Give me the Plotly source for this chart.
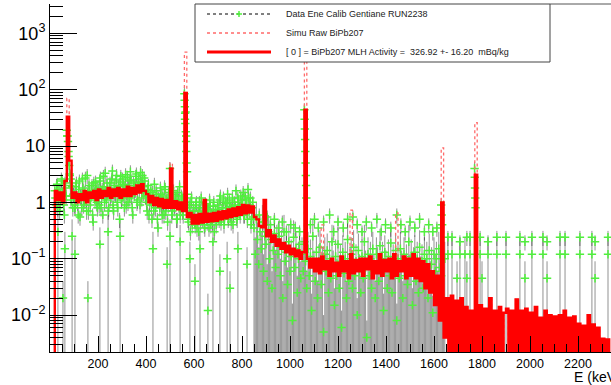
import plotly.graph_objects as go

# ------------------------------------------------------------------ data
# MLH fit ("[0] = BiPb207"), 10 keV bins, left edges 0 .. 2330 keV
fit_bin_keV = 10
fit_rows = [
    [0, 0, 1.6, 1.1, 1.5, 1.0, 2.4, 33, 5.5, 1.2],                      # 0-90
    [1.5, 1.0, 1.4, 1.1, 1.6, 1.0, 1.5, 1.2, 1.6, 1.1],                 # 100
    [1.7, 1.2, 1.6, 1.3, 1.8, 1.2, 1.7, 1.3, 1.8, 1.2],                 # 200
    [1.7, 1.3, 1.9, 1.3, 1.8, 1.4, 2.0, 1.5, 2.1, 1.6],                 # 300
    [1.4, 1.0, 1.3, 0.9, 1.2, 0.85, 1.15, 0.8, 1.1, 0.8],               # 400
    [4.0, 0.8, 1.05, 0.75, 1.0, 0.7, 87, 0.55, 0.65, 0.42],             # 500
    [0.6, 0.42, 0.62, 0.44, 1.1, 0.45, 0.63, 0.46, 0.65, 0.47],         # 600
    [0.68, 0.5, 0.7, 0.52, 0.75, 0.55, 0.78, 0.58, 0.82, 0.6],          # 700
    [0.9, 0.64, 0.88, 0.66, 0.85, 0.55, 0.5, 0.38, 0.36, 1.1],          # 800
    [0.25, 0.32, 0.2, 0.26, 0.17, 0.22, 0.15, 0.19, 0.13, 0.17],        # 900
    [0.12, 0.15, 0.11, 0.14, 0.1, 0.13, 44, 0.1, 0.07, 0.1],            # 1000
    [0.06, 0.1, 0.055, 0.11, 0.065, 0.09, 0.05, 0.1, 0.06, 0.085],      # 1100
    [0.05, 0.11, 0.06, 0.09, 0.045, 0.12, 0.055, 0.095, 0.06, 0.1],     # 1200
    [0.05, 0.1, 0.065, 0.11, 0.045, 0.09, 0.055, 0.12, 0.05, 0.095],    # 1300
    [0.06, 0.1, 0.045, 0.12, 0.05, 0.09, 0.06, 0.11, 0.045, 0.1],       # 1400
    [0.05, 0.12, 0.045, 0.1, 0.04, 0.09, 0.03, 0.08, 0.025, 0.06],      # 1500
    [0.015, 0.05, 0.008, 1.0, 0.004, 0.02, 0, 0.022, 0, 0.018],         # 1600
    [0, 0.02, 0, 0.014, 0, 0.012, 0, 3.1, 0, 0.015],                    # 1700
    [0, 0.013, 0, 0.02, 0, 0.012, 0, 0.014, 0, 0.011],                  # 1800
    [0.013, 0, 0.012, 0, 0.019, 0, 0.012, 0, 0.013, 0],                 # 1900
    [0.011, 0, 0.014, 0, 0.009, 0, 0.012, 0, 0.01, 0],                  # 2000
    [0.0095, 0, 0.01, 0, 0.012, 0, 0.009, 0, 0.0095, 0],                # 2100
    [0.007, 0, 0.0065, 0, 0.01, 0, 0.0068, 0, 0.006, 0],                # 2200
    [0.0038, 0, 0.0037, 0],                                             # 2300
]
# raw simulation: same as the fit except in these bins (keV -> value)
simu_raw_peaks = {70: 70, 500: 5, 560: 465, 1060: 600, 1130: 0.4,
                  1250: 0.73, 1440: 0.65, 1630: 9.3, 1770: 26}

# data, multi-count bins 20..845 keV every 5 keV
cloud_start, cloud_step = 20, 5
cloud_rows = [
    [1.6, 0.9, 2.1, 1.2, 0.7, 1.5, 2.4, 1.1, 0.6, 1.8, 19, 12, 4.5, 2.0, 1.3, 0.8],
    [1.4, 0.8, 2.2, 1.0, 1.7, 0.55, 1.3, 2.6, 0.9, 1.5, 1.1, 3.0, 0.7, 1.6, 1.2, 2.0, 0.45, 1.4, 2.3, 1.0],
    [1.8, 0.9, 2.7, 1.3, 0.6, 1.9, 3.3, 1.1, 1.6, 0.8, 2.2, 1.4, 3.6, 0.7, 1.5, 2.5, 1.0, 1.9, 0.5, 2.9],
    [1.2, 2.1, 0.8, 3.1, 1.6, 1.0, 2.4, 3.5, 1.3, 0.6, 2.0, 1.7, 3.2, 1.1, 2.6, 0.9, 2.2, 3.0, 1.5, 2.4],
    [1.3, 0.7, 2.0, 1.0, 1.6, 0.5, 1.2, 2.1, 0.8, 1.4, 0.35, 1.1, 1.8, 0.9, 1.3, 0.6, 1.7, 1.0, 0.45, 1.5],
    [4.0, 1.2, 0.7, 1.6, 0.9, 1.3, 0.5, 1.1, 1.9, 0.8, 1.2, 0.6, 85, 40, 1.4, 0.5, 0.9, 0.3, 1.2, 0.6],
    [0.7, 0.4, 1.0, 0.55, 0.3, 0.8, 1.2, 0.5, 0.65, 0.35, 0.9, 0.45, 0.75, 1.1, 0.4, 0.6, 0.85, 0.3, 0.7, 0.5],
    [0.9, 0.5, 1.3, 0.6, 0.8, 0.4, 1.0, 0.7, 1.4, 0.55, 0.85, 0.45, 1.2, 0.65, 0.9, 1.6, 0.5, 1.0, 0.75, 1.3],
    [0.8, 1.5, 0.6, 1.1, 0.9, 1.7, 0.7, 1.2, 0.5, 1.0],
]
# data, multi-count bins 22.5..847.5 keV every 5 keV (interleaved)
cloud2_start = 22.5
cloud2_rows = [
    [1.2, 2.0, 0.8, 1.7, 1.0, 2.6, 1.4, 0.9, 2.2, 1.3, 15, 6.5, 3.0, 1.1, 1.9, 1.4],
    [0.9, 1.9, 1.2, 0.6, 2.4, 1.3, 0.8, 1.8, 1.1, 2.7, 0.7, 1.5, 2.0, 0.9, 1.6, 0.6, 2.2, 1.1, 1.7, 0.8],
    [1.3, 2.4, 0.8, 1.7, 2.9, 1.0, 1.5, 2.2, 0.7, 1.8, 1.2, 2.6, 0.9, 2.0, 1.4, 3.0, 0.8, 1.6, 2.3, 1.1],
    [2.6, 1.4, 2.0, 0.9, 2.8, 1.8, 1.2, 2.5, 0.8, 2.2, 1.5, 2.9, 1.0, 2.3, 1.7, 3.4, 1.2, 1.9, 2.7, 1.3],
    [1.0, 1.7, 0.6, 1.3, 0.9, 1.5, 0.7, 1.1, 1.6, 0.5, 1.2, 0.8, 1.4, 0.6, 1.0, 1.9, 0.7, 1.2, 0.9, 1.1],
    [1.0, 0.6, 1.4, 0.8, 1.1, 0.5, 1.5, 0.9, 0.6, 1.3, 0.7, 1.0, 30, 15, 0.8, 0.45, 0.7, 1.0, 0.4, 0.8],
    [0.5, 0.9, 0.35, 0.7, 1.0, 0.45, 0.6, 0.8, 0.4, 0.95, 0.55, 0.7, 0.35, 0.85, 0.6, 0.45, 1.0, 0.55, 0.4, 0.75],
    [0.6, 1.1, 0.45, 0.8, 1.2, 0.55, 0.7, 0.95, 0.5, 1.1, 0.65, 0.8, 0.4, 1.0, 0.75, 0.55, 1.2, 0.85, 0.6, 0.9],
    [1.1, 0.6, 1.3, 0.75, 0.5, 1.2, 0.9, 0.4, 0.8, 0.55],
]
cloud_rel_err = 0.3

# data, other multi-count bins (peaks, upper points) : energy keV, value
extra_E = [72, 77, 82, 86, 561, 562, 563, 564, 566, 567, 568, 569, 571,
           1060, 1061, 1062, 1063, 1064, 1065, 1066, 1067, 1068,
           1630, 1632, 1634, 1769, 1770, 1771, 1772, 1773,
           872, 888, 905, 918, 935, 952, 968, 985, 1003, 1022, 1040, 1085, 1102,
           1118, 1140, 1165, 1182, 1200, 1222, 1240, 1262, 1280, 1300, 1318, 1340,
           1362, 1380, 1398, 1420, 1445, 1462, 1480, 1500, 1520, 1540, 1560, 1578,
           1595, 1612,
           1658, 1675, 1708, 1737, 1750, 1792, 1825, 1862, 1900, 1958, 1979,
           2008, 2054, 2071, 2125, 2146, 2208, 2258, 2271, 2325]
extra_y = [15, 8, 3.2, 2.6, 65, 50, 38, 25, 18, 12, 8, 5, 3.5,
           44, 30, 20, 13, 8, 5, 3, 2, 1.2,
           0.9, 0.6, 0.4, 4.0, 2.8, 1.8, 1.2, 0.8,
           0.6, 0.45, 0.55, 0.4, 0.5, 0.35, 0.45, 0.3, 0.4, 0.35, 0.3, 0.4, 0.5,
           0.35, 0.45, 0.6, 0.3, 0.45, 0.35, 0.5, 0.55, 0.4, 0.3, 0.45, 0.35,
           0.5, 0.3, 0.4, 0.35, 0.6, 0.4, 0.3, 0.45, 0.35, 0.5, 0.3, 0.4,
           0.3, 0.35,
           0.24, 0.24, 0.2, 0.24, 0.24, 0.24, 0.2, 0.24, 0.24, 0.24, 0.2,
           0.24, 0.24, 0.2, 0.24, 0.24, 0.24, 0.24, 0.2, 0.24]

# data, single-count bins (error bar reaches zero)
single_E = [33, 54, 62, 92, 104, 158, 208, 242, 292, 429, 488, 500, 542, 583,
            604, 625, 658, 679, 708, 738, 750, 783, 821,
            1658, 1675, 1696, 1708, 1729, 1737, 1750, 1792, 1800, 1825, 1862,
            1900, 1958, 1979, 2008, 2054, 2071, 2125, 2146, 2208, 2258, 2271, 2325]
single_y = [0.3, 0.02, 0.15, 0.25, 0.12, 0.02, 0.18, 0.3, 0.25, 0.15, 0.08, 0.25,
            0.2, 0.1, 0.04, 0.15, 0.012, 0.2, 0.06, 0.1, 0.03, 0.15, 0.08,
            0.12, 0.12, 0.045, 0.12, 0.12, 0.045, 0.12, 0.12, 0.045, 0.12, 0.12,
            0.12, 0.12, 0.045, 0.12, 0.12, 0.045, 0.12, 0.12, 0.12, 0.12, 0.045, 0.12]
# single-count bins 850..1645 keV every 5 keV
singleB_start, singleB_step = 850, 5
singleB_rows = [
    [0.35, 0.12, 0.5, 0.22, 0.08, 0.3, 0.15, 0.45, 0.06, 0.25, 0.18, 0.04, 0.3, 0.1, 0.22, 0.03, 0.14, 0.28, 0.07, 0.2],
    [0.12, 0.25, 0.05, 0.16, 0.02, 0.3, 0.09, 0.13, 0.035, 0.2, 0.06, 0.11, 0.008, 0.24, 0.07, 0.15, 0.025, 0.1, 0.18, 0.045],
    [0.12, 0.06, 0.2, 0.09, 0.03, 0.15, 0.05, 0.11, 0.012, 0.25, 0.07, 0.04, 0.13, 0.02, 0.09, 0.16, 0.035, 0.08, 0.005, 0.12],
    [0.06, 0.14, 0.025, 0.1, 0.045, 0.2, 0.07, 0.015, 0.11, 0.05, 0.18, 0.03, 0.09, 0.006, 0.13, 0.055, 0.1, 0.02, 0.22, 0.04],
    [0.08, 0.12, 0.03, 0.16, 0.05, 0.09, 0.01, 0.14, 0.06, 0.025, 0.11, 0.045, 0.2, 0.07, 0.004, 0.12, 0.05, 0.1, 0.03, 0.15],
    [0.06, 0.02, 0.12, 0.08, 0.04, 0.17, 0.055, 0.1, 0.012, 0.13, 0.07, 0.03, 0.11, 0.05, 0.19, 0.025, 0.09, 0.06, 0.14, 0.008],
    [0.1, 0.045, 0.15, 0.07, 0.02, 0.12, 0.05, 0.09, 0.035, 0.2, 0.06, 0.11, 0.015, 0.08, 0.13, 0.04, 0.1, 0.025, 0.16, 0.055],
    [0.09, 0.03, 0.12, 0.05, 0.1, 0.02, 0.14, 0.045, 0.08, 0.011, 0.12, 0.06, 0.1, 0.03, 0.15, 0.07, 0.05, 0.12, 0.02, 0.1],
]

x_ticks = [200, 400, 600, 800, 1000, 1200, 1400, 1600, 1800, 2000, 2200]
y_ticks = [0.01, 0.1, 1, 10, 100, 1000]
y_ticktext = ["10<sup>\u22122</sup>", "10<sup>\u22121</sup>", "1", "10",
              "10<sup>2</sup>", "10<sup>3</sup>"]
legend_labels = [
    "Data Ene Calib Gentiane RUN2238",
    "Simu Raw BiPb207",
    "[ 0 ] = BiPb207 MLH Activity =\u00a0 326.92 +- 16.20\u00a0 mBq/kg",
]

# ------------------------------------------------------------------ build
X_RANGE = [0, 2337.5]
LOG_RANGE = [-2.655, 3.52]
FLOOR = 1e-5

fit_vals = [v for row in fit_rows for v in row]
fit_E = [i * fit_bin_keV for i in range(len(fit_vals))]
simu_vals = [simu_raw_peaks.get(e, v) for e, v in zip(fit_E, fit_vals)]
fit_plot = [max(v, FLOOR) for v in fit_vals]
simu_plot = [max(v, FLOOR) for v in simu_vals]

cloud_y = [v for row in cloud_rows for v in row]
cloud_E = [cloud_start + i * cloud_step for i in range(len(cloud_y))]
cloud2_y = [v for row in cloud2_rows for v in row]
cloud2_E = [cloud2_start + i * cloud_step for i in range(len(cloud2_y))]
singleB_y = [v for row in singleB_rows for v in row]
singleB_E = [singleB_start + i * singleB_step for i in range(len(singleB_y))]

multi_E = cloud_E + cloud2_E + extra_E
multi_y = cloud_y + cloud2_y + extra_y
one_E = single_E + singleB_E
one_y = single_y + singleB_y

ex, ey = [], []
for e, v in zip(multi_E, multi_y):
    ex += [e, e, None]
    ey += [v * (1 + cloud_rel_err), max(v * (1 - cloud_rel_err), FLOOR), None]
for e, v in zip(one_E, one_y):
    ex += [e, e, None]
    ey += [2 * v, FLOOR, None]

GREEN = "rgb(80,240,60)"
RED = "#ff0000"
PINK = "#ff6a6a"

fig = go.Figure()
fig.add_trace(go.Scatter(x=ex, y=ey, mode="lines",
                         line=dict(color="rgba(0,0,0,0.62)", width=0.7),
                         hoverinfo="skip"))
fig.add_trace(go.Scatter(x=multi_E + one_E, y=multi_y + one_y, mode="markers",
                         marker=dict(symbol="cross-thin", size=6, color=GREEN,
                                     line=dict(color=GREEN, width=1.5))))
fig.add_trace(go.Scatter(x=fit_E, y=simu_plot, mode="lines", line_shape="hv",
                         line=dict(color=PINK, width=1.3, dash="dot")))
fig.add_trace(go.Scatter(x=fit_E, y=fit_plot, mode="lines", line_shape="hv",
                         line=dict(color=RED, width=2.4)))

FONT = "Liberation Sans, Arial, sans-serif"
W, H = 611, 385
ML, MR, MT, MB = 50, 0, 4, 33
PW, PH = W - ML - MR, H - MT - MB


def px(x):
    return (x - ML) / PW


def py(y):
    return (MT + PH - y) / PH


fig.update_layout(
    width=W, height=H, margin=dict(l=ML, r=MR, t=MT, b=MB),
    paper_bgcolor="white", plot_bgcolor="white", showlegend=False,
    font=dict(family=FONT, color="black"),
    xaxis=dict(range=X_RANGE, showgrid=False, zeroline=False, showline=True,
               linecolor="black", linewidth=1, ticks="inside", ticklen=16,
               tickcolor="black", tickvals=x_ticks, tickfont=dict(size=12.5),
               minor=dict(ticks="inside", ticklen=8, tickcolor="black",
                          tick0=0, dtick=50)),
    yaxis=dict(type="log", range=LOG_RANGE, showgrid=False, zeroline=False,
               showline=True, linecolor="black", linewidth=1, ticks="inside",
               ticklen=27, tickcolor="black", tickvals=y_ticks,
               ticktext=y_ticktext, tickfont=dict(size=18),
               minor=dict(ticks="inside", ticklen=13, tickcolor="black",
                          tickvals=[k * 10 ** d for d in range(-3, 4)
                                    for k in range(2, 10)])),
)

shapes = []
# top frame segment right of the legend
shapes.append(dict(type="line", xref="paper", yref="paper", x0=px(550), x1=1.0,
                   y0=py(4), y1=py(4), line=dict(color="#555", width=1)))
# legend box
shapes.append(dict(type="rect", xref="paper", yref="paper", x0=px(195), x1=px(550),
                   y0=py(62), y1=py(4), fillcolor="white",
                   line=dict(color="#444", width=1), layer="above"))
ly = [14, 33, 52]
shapes.append(dict(type="line", xref="paper", yref="paper", x0=px(207), x1=px(271),
                   y0=py(ly[0]), y1=py(ly[0]), line=dict(color="black", width=1, dash="dot"),
                   layer="above"))
shapes.append(dict(type="line", xref="paper", yref="paper", x0=px(236), x1=px(242),
                   y0=py(ly[0]), y1=py(ly[0]), line=dict(color=GREEN, width=1.5),
                   layer="above"))
shapes.append(dict(type="line", xref="paper", yref="paper", x0=px(239), x1=px(239),
                   y0=py(ly[0] + 3), y1=py(ly[0] - 3), line=dict(color=GREEN, width=1.5),
                   layer="above"))
shapes.append(dict(type="line", xref="paper", yref="paper", x0=px(207), x1=px(271),
                   y0=py(ly[1]), y1=py(ly[1]), line=dict(color=PINK, width=1.5, dash="dot"),
                   layer="above"))
shapes.append(dict(type="line", xref="paper", yref="paper", x0=px(207), x1=px(271),
                   y0=py(ly[2]), y1=py(ly[2]), line=dict(color=RED, width=3),
                   layer="above"))

annotations = []
for lab, yy in zip(legend_labels, ly):
    annotations.append(dict(xref="paper", yref="paper", x=px(284), y=py(yy),
                            text=lab, showarrow=False, xanchor="left", yanchor="middle",
                            font=dict(size=9, family=FONT, color="#222")))
annotations.append(dict(xref="paper", yref="paper", x=px(572), y=py(377),
                        text="E (keV)", showarrow=False, xanchor="left",
                        yanchor="middle", font=dict(size=14, family=FONT)))

fig.update_layout(shapes=shapes, annotations=annotations)
fig.write_html("out.html")
